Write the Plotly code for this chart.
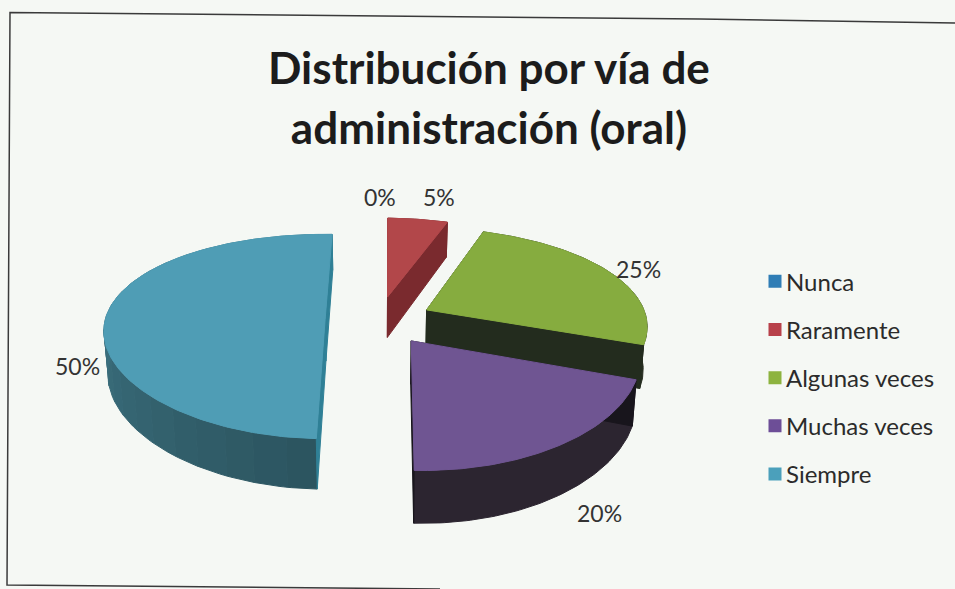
import math
import plotly.graph_objects as go

# --- data ---
categories = ["Nunca", "Raramente", "Algunas veces", "Muchas veces", "Siempre"]
values = [0, 5, 25, 20, 50]
pct_labels = ["0%", "5%", "25%", "20%", "50%"]
top_colors = ["#2F7DB5", "#B2474A", "#86AC3F", "#6F5592", "#4F9DB5"]
legend_colors = ["#2F7DB5", "#B8414A", "#8DB33F", "#6D4E97", "#4BA0BB"]
chart_title = "Distribución por vía de<br>administración (oral)"

# --- styling of the tilted, exploded pie ---
edge_start_colors = ["#222222", "#8A3336", "#26301F", "#18151C", "#2F8096"]
edge_end_colors = ["#222222", "#7A2A2E", "#232C1E", "#18151C", "#2F8096"]
wall_light = ["#222222", "#7A2A2E", "#262D20", "#2C2530", "#4A8A9C"]
wall_dark = ["#222222", "#7A2A2E", "#262D20", "#2C2530", "#2C5560"]
draw_order = [0, 1, 2, 4, 3]          # back to front
label_xy = [(380, 197), (439, 197), (638, 269), (599, 513), (77, 366)]
BG = "#F5F8F4"
CX, CY, RX, RY = 379, 320, 220, 99.5  # projection centre and radii
VX, PX = 326, 0.12                    # horizontal vanishing point and strength
PERSP, EXPLODE, DEPTH, ROT = 0.17, 0.245, 42, 2
WALL_SLANT = 0.015


def project(gx, gy):
    k = 1 / (1 + PERSP * gy)
    kx = 1 / (1 + PX * gy)
    return VX + (CX - VX + RX * gx) * kx, CY - RY * gy * k, k


def lower(p):
    return p[0] - (p[0] - CX) * WALL_SLANT, p[1] + DEPTH * p[2]


def mix(a, b, f):
    pa = [int(a[i:i + 2], 16) for i in (1, 3, 5)]
    pb = [int(b[i:i + 2], 16) for i in (1, 3, 5)]
    return "#%02X%02X%02X" % tuple(round(u + (v - u) * f) for u, v in zip(pa, pb))


total = sum(values)
starts, cum = [], 0
for v in values:
    starts.append(cum / total * 360 + ROT)
    cum += v

fig = go.Figure()


def poly(pts, color):
    xs = [p[0] for p in pts] + [pts[0][0]]
    ys = [p[1] for p in pts] + [pts[0][1]]
    fig.add_trace(go.Scatter(x=xs, y=ys, mode="lines", fill="toself", fillcolor=color,
                             line=dict(width=1, color=color), showlegend=False, hoverinfo="skip"))


for i in draw_order:
    if values[i] == 0:
        continue
    a0 = starts[i]
    a1 = a0 + values[i] / total * 360
    mid = math.radians((a0 + a1) / 2)
    ox, oy = EXPLODE * math.sin(mid), EXPLODE * math.cos(mid)
    steps = max(int(a1 - a0), 4)
    rim = []
    for s in range(steps + 1):
        t = math.radians(a0 + (a1 - a0) * s / steps)
        rim.append(project(ox + math.sin(t), oy + math.cos(t)))
    tip = project(ox, oy)
    # outer wall, in bands when it is shaded
    bands = 24 if wall_light[i] != wall_dark[i] else 1
    for b in range(bands):
        s0, s1 = b * steps // bands, (b + 1) * steps // bands
        seg = rim[s0:s1 + 1]
        if len(seg) < 2:
            continue
        poly([p[:2] for p in seg] + [lower(p) for p in reversed(seg)],
             mix(wall_dark[i], wall_light[i], b / max(bands - 1, 1)))
    # radial walls
    poly([tip[:2], rim[0][:2], lower(rim[0]), lower(tip)], edge_start_colors[i])
    poly([tip[:2], rim[-1][:2], lower(rim[-1]), lower(tip)], edge_end_colors[i])
    # top face
    poly([tip[:2]] + [p[:2] for p in rim], top_colors[i])

# legend entries
for i, name in enumerate(categories):
    fig.add_trace(go.Scatter(x=[None], y=[None], mode="markers", name=name, legendgroup=name,
                             marker=dict(symbol="square", size=13, color=legend_colors[i])))

# percentage labels
for text, (lx, ly) in zip(pct_labels, label_xy):
    fig.add_annotation(x=lx, y=ly, text=text, showarrow=False, xref="x", yref="y",
                       font=dict(family="Lato", size=23, color="#333333"))

fig.update_xaxes(range=[0, 955], visible=False)
fig.update_yaxes(range=[589, 0], visible=False)
fig.update_layout(
    width=955, height=589, paper_bgcolor=BG, plot_bgcolor=BG,
    margin=dict(l=0, r=0, t=0, b=0),
    title=dict(text='<span style="font-size:44px">' + chart_title.replace("<br>", '</span><br><span style="font-size:44px">') + "</span>",
               x=0.512, xanchor="center", y=0.857, yanchor="middle", yref="container",
               font=dict(family="Lato", size=46, color="#1c1c1c", weight=700)),
    legend=dict(x=746 / 955, y=0.560, yanchor="top", xanchor="left", itemwidth=30, bgcolor="rgba(0,0,0,0)",
                font=dict(family="Lato", size=24, color="#2b2b2b"), tracegroupgap=14),
    shapes=[dict(type="path", xref="x", yref="y",
                 path="M 955 23 L 700 19 L 10 12.5 L 7 585 L 440 589",
                 line=dict(color="#3a3a3a", width=1.5))],
)
post = ("document.body.style.margin='0';document.body.style.background='%s';"
        "window.dispatchEvent(new Event('resize'));"
        "setTimeout(function(){document.querySelectorAll('.legendsymbols').forEach(function(g){g.setAttribute('transform','translate(9,0)');});},0);" % BG)
fig.write_html("out.html", config={"displayModeBar": False}, post_script=post)
